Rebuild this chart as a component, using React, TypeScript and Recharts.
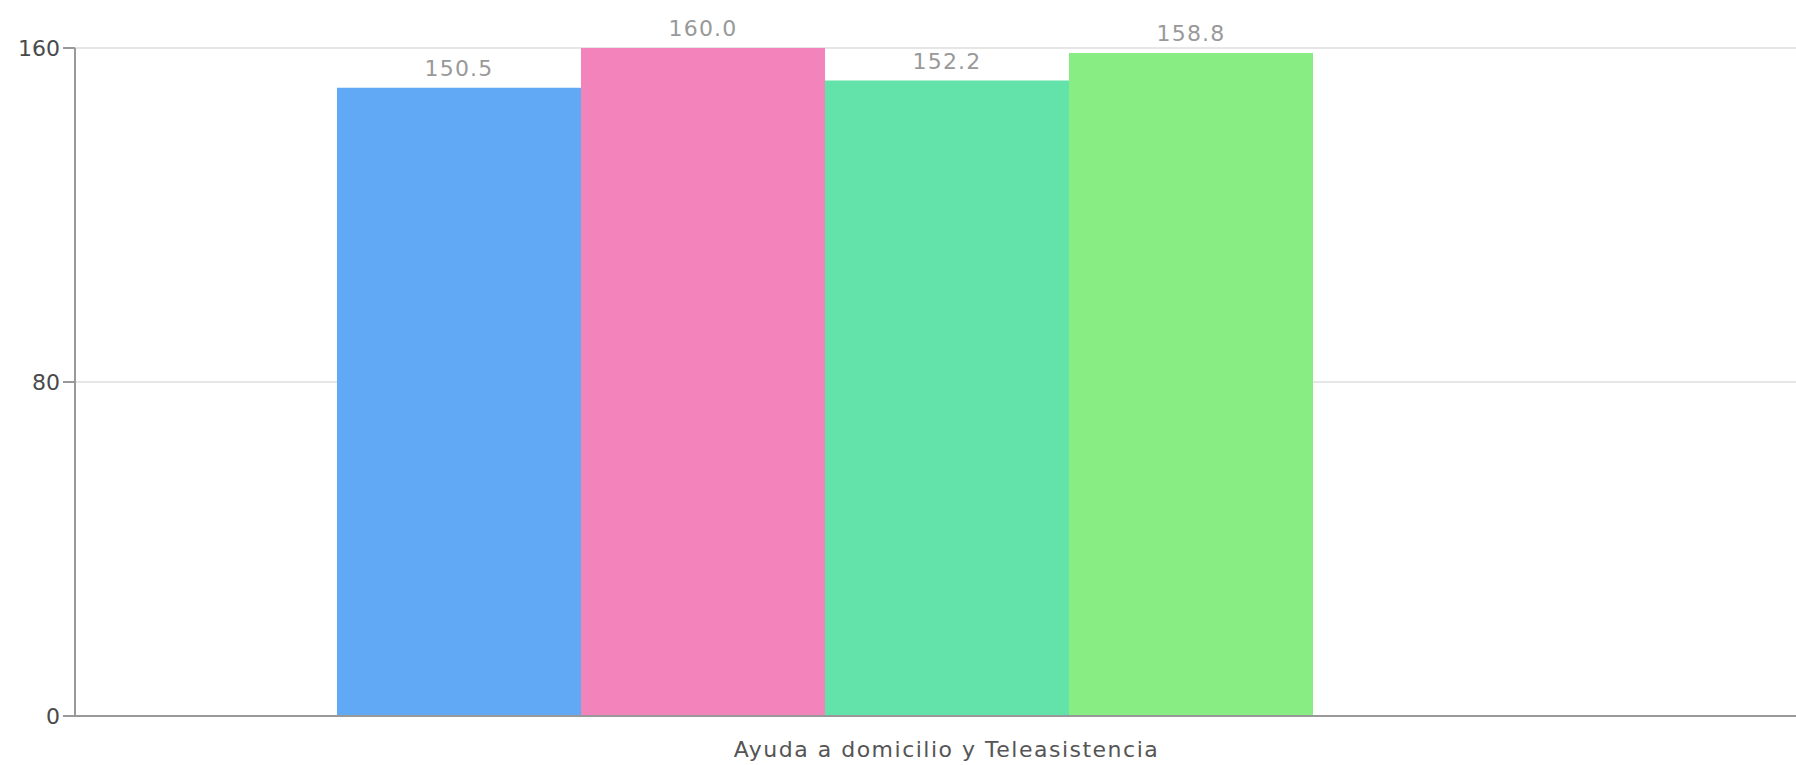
import React from 'react'
import { BarChart, Bar, XAxis, YAxis, CartesianGrid, LabelList } from 'recharts'

const categories = ['Ayuda a domicilio y Teleasistencia']
const serieA = [150.5]
const serieB = [160.0]
const serieC = [152.2]
const serieD = [158.8]
const serieE = [null] // empty slot in the original chart
const yTicks = [0, 80, 160]

const SERIES = [
  { key: 'a', values: serieA, color: '#62a9f5' },
  { key: 'b', values: serieB, color: '#f283bb' },
  { key: 'c', values: serieC, color: '#63e3aa' },
  { key: 'd', values: serieD, color: '#88ee84' },
  { key: 'e', values: serieE, color: 'transparent' },
]

const data = categories.map((name, i) => {
  const row: Record<string, any> = { name }
  SERIES.forEach(s => {
    row[s.key] = s.values[i]
  })
  return row
})

const FONT = '"DejaVu Sans", Verdana, sans-serif'

export default function App() {
  return (
    <div style={{ position: 'absolute', left: 0, top: 0, background: '#fff' }}>
      <BarChart
        width={1796}
        height={765}
        data={data}
        margin={{ top: 48, right: 0, bottom: 0, left: 0 }}
        barGap={0}
        barSize={244}
        style={{ fontFamily: FONT }}
      >
        <CartesianGrid vertical={false} stroke="#e6e6e6" strokeWidth={2} />
        <XAxis
          dataKey="name"
          height={49}
          padding={{ left: 22, right: 0 }}
          axisLine={{ stroke: '#999', strokeWidth: 2 }}
          tickLine={false}
          tickSize={10}
          tickMargin={15}
          tick={{ fill: '#555', fontSize: 22, letterSpacing: 1.5, fontFamily: FONT }}
        />
        <YAxis
          width={75}
          domain={[0, 160]}
          ticks={yTicks}
          interval={0}
          axisLine={{ stroke: '#999', strokeWidth: 2 }}
          tickLine={{ stroke: '#999', strokeWidth: 2 }}
          tickSize={12}
          tickMargin={3}
          tick={{ fill: '#4a4a4a', fontSize: 22, fontFamily: FONT }}
        />
        {SERIES.map(s => (
          <Bar key={s.key} dataKey={s.key} fill={s.color} isAnimationActive={false}>
            <LabelList
              dataKey={s.key}
              position="top"
              offset={12}
              fill="#999"
              fontSize={22}
              letterSpacing={1.2}
              fontFamily={FONT}
              formatter={(v: any) => (v == null ? '' : Number(v).toFixed(1))}
            />
          </Bar>
        ))}
      </BarChart>
    </div>
  )
}
